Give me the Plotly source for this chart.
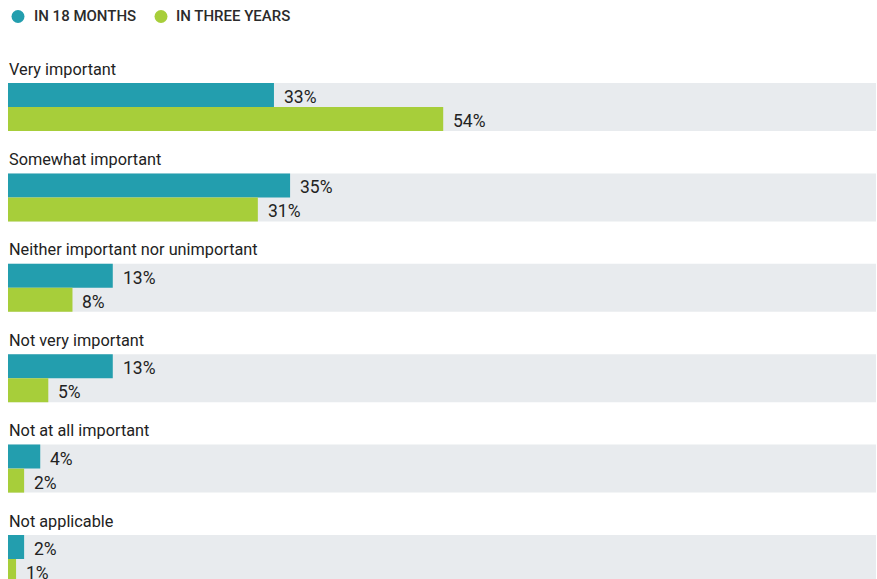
import plotly.graph_objects as go

categories = ["Very important", "Somewhat important", "Neither important nor unimportant",
              "Not very important", "Not at all important", "Not applicable"]
in_18_months = [33, 35, 13, 13, 4, 2]
in_three_years = [54, 31, 8, 5, 2, 1]
series_names = ["IN 18 MONTHS", "IN THREE YEARS"]

TEAL = "#239EAE"
GREEN = "#A7CE3A"
BAND = "#E8EBEE"
LABEL_FONT = "Roboto, DejaVu Sans Condensed, sans-serif"

W, H = 877, 579
ML, MR = 8, 1
PW = W - ML - MR

idx = list(range(len(categories)))
band_half = 0.2655
bar_w = 0.2655

fig = go.Figure()

shapes = []
for i in idx:
    shapes.append(dict(type="rect", xref="paper", yref="y", x0=0, x1=1,
                       y0=i - band_half, y1=i + band_half,
                       fillcolor=BAND, line=dict(width=0), layer="below"))

fig.add_trace(go.Bar(y=[i - bar_w / 2 for i in idx], x=in_18_months, orientation="h",
                     width=bar_w, marker=dict(color=TEAL, line=dict(width=0)),
                     name=series_names[0], showlegend=False, hoverinfo="x"))
fig.add_trace(go.Bar(y=[i + bar_w / 2 for i in idx], x=in_three_years, orientation="h",
                     width=bar_w, marker=dict(color=GREEN, line=dict(width=0)),
                     name=series_names[1], showlegend=False, hoverinfo="x"))

annotations = []
# legend (manual): circles + text
legend_circle_px = [18, 161]
legend_text_px = [33, 175]
legend_y = 1 - 16.5 / H
for name, col, cx, tx in zip(series_names, [TEAL, GREEN], legend_circle_px, legend_text_px):
    shapes.append(dict(type="circle", xref="paper", yref="paper",
                       xsizemode="pixel", ysizemode="pixel",
                       xanchor=(cx - ML) / PW, yanchor=legend_y,
                       x0=-6.5, x1=6.5, y0=-6.5, y1=6.5,
                       fillcolor=col, line=dict(width=0)))
    annotations.append(dict(x=(tx - ML) / PW, y=legend_y, xref="paper", yref="paper",
                            text=name, showarrow=False, xanchor="left", yanchor="middle",
                            xshift=-1, font=dict(family="Roboto, sans-serif", size=15,
                                                 weight=500, color="#2b2b2b")))

for i, cat in zip(idx, categories):
    annotations.append(dict(x=0, y=i - 0.42, xref="x", yref="y", text=cat,
                            showarrow=False, xanchor="left", yanchor="middle", xshift=-1,
                            font=dict(family=LABEL_FONT, size=16.3, color="#222222")))
for i, v in zip(idx, in_18_months):
    annotations.append(dict(x=v, y=i - bar_w / 2, xref="x", yref="y", text=f"{v}%",
                            showarrow=False, xanchor="left", yanchor="middle",
                            xshift=8, yshift=-2,
                            font=dict(family=LABEL_FONT, size=17.5, color="#222222")))
for i, v in zip(idx, in_three_years):
    annotations.append(dict(x=v, y=i + bar_w / 2, xref="x", yref="y", text=f"{v}%",
                            showarrow=False, xanchor="left", yanchor="middle",
                            xshift=8, yshift=-2,
                            font=dict(family=LABEL_FONT, size=17.5, color="#222222")))

fig.update_layout(
    width=W, height=H,
    margin=dict(l=ML, r=MR, t=0, b=0),
    paper_bgcolor="white", plot_bgcolor="white",
    barmode="overlay",
    shapes=shapes, annotations=annotations,
    xaxis=dict(range=[0, 107.7], visible=False, fixedrange=True),
    yaxis=dict(range=[5.221, -1.184], visible=False, fixedrange=True),
    showlegend=False,
)

fig.write_html("out.html")
